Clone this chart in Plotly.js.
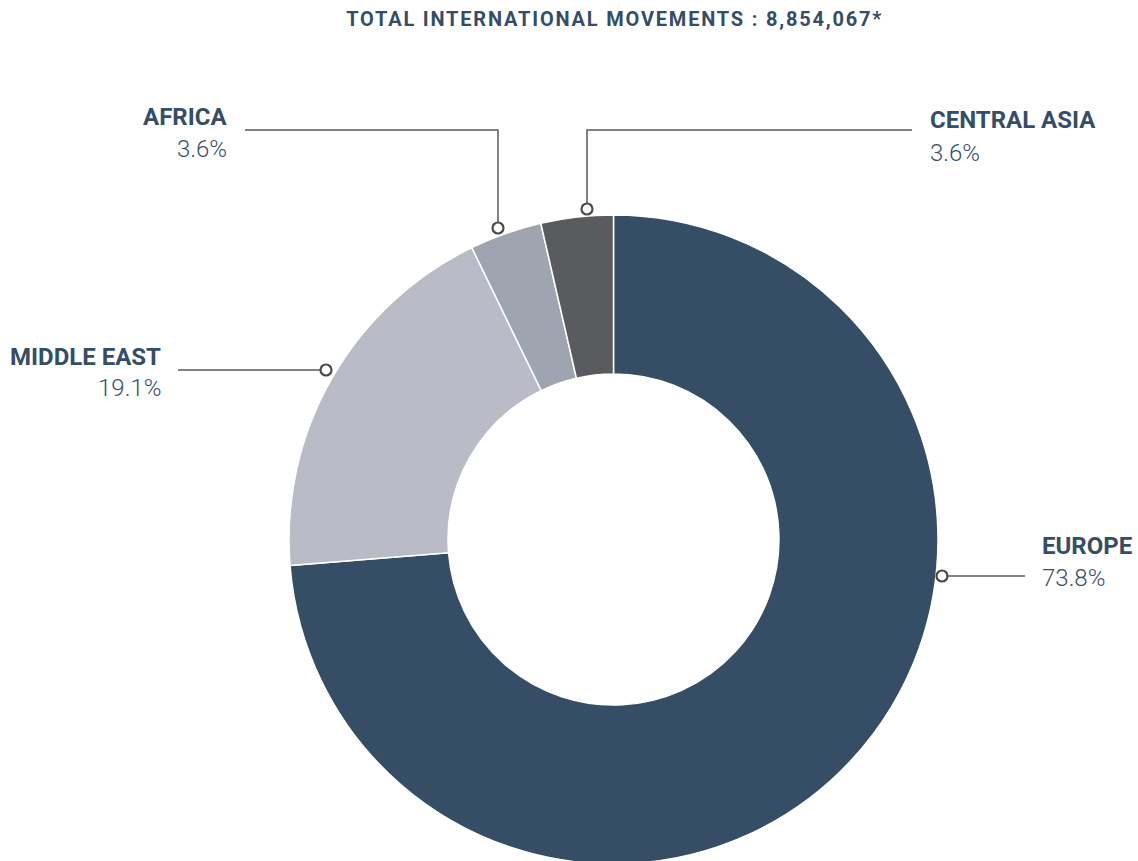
<!DOCTYPE html>
<html><head><meta charset="utf-8">
<script src="https://cdn.plot.ly/plotly-3.0.1.min.js"></script>
<style>html,body{margin:0;padding:0;overflow:hidden;background:#fff}#chart{width:1138px;height:864px}</style>
</head><body><div id="chart"></div>
<script>
const regions = ["EUROPE", "MIDDLE EAST", "AFRICA", "CENTRAL ASIA"];
const shares = [73.8, 19.1, 3.6, 3.6];
const pctLabels = ["73.8%", "19.1%", "3.6%", "3.6%"];
const colors = ["#354e66", "#b9bbc6", "#9fa4b1", "#5a5b5e"];
const titleText = "TOTAL INTERNATIONAL MOVEMENTS : 8,854,067*";

const W = 1138, H = 864;
const px = x => x / W, py = y => 1 - y / H;
const nameFont = {family: "Roboto, sans-serif", size: 24, color: "#354e66", weight: 700};
const pctFont = {family: "Roboto, sans-serif", size: 24, color: "#3a5068", weight: 300};
const lineStyle = {color: "#5a5a5a", width: 1.5};

// label placement (pixels): dot, elbow path, text anchor
const place = {
  "EUROPE": {dot:[942,576], path:[[948,576],[1025,576]], tx:1040, ny:546, pyy:578, anchor:"left"},
  "MIDDLE EAST": {dot:[326,370], path:[[178,370],[320,370]], tx:163, ny:357, pyy:388, anchor:"right"},
  "AFRICA": {dot:[498,228], path:[[245,130],[498,130],[498,222]], tx:229, ny:117, pyy:149, anchor:"right"},
  "CENTRAL ASIA": {dot:[587,209], path:[[587,203],[587,130],[912,130]], tx:928, ny:120, pyy:153, anchor:"left"}
};

const shapes = [], annotations = [];
regions.forEach((r, i) => {
  const p = place[r];
  const d = "M" + p.path.map(q => px(q[0]) + "," + py(q[1])).join(" L");
  shapes.push({type:"path", xref:"paper", yref:"paper", path:d, line:lineStyle});
  shapes.push({type:"circle", xref:"paper", yref:"paper", xsizemode:"pixel", ysizemode:"pixel",
    xanchor:px(p.dot[0]), yanchor:py(p.dot[1]), x0:-5.5, x1:5.5, y0:-5.5, y1:5.5,
    fillcolor:"#ffffff", line:{color:"#4a4a4a", width:2.2}});
  annotations.push({xref:"paper", yref:"paper", x:px(p.tx), y:py(p.ny), text:r, showarrow:false,
    xanchor:p.anchor, yanchor:"middle", font:nameFont});
  annotations.push({xref:"paper", yref:"paper", x:px(p.tx), y:py(p.pyy), text:pctLabels[i], showarrow:false,
    xanchor:p.anchor, yanchor:"middle", font:pctFont});
});
annotations.push({xref:"paper", yref:"paper", x:px(614), y:py(19), text:titleText, showarrow:false,
  xanchor:"center", yanchor:"middle", font:{family:"Roboto, sans-serif", size:20, color:"#354e66", weight:700}});

const R = 324.5, cx = 613.5, cy = 539.5;
const trace = {
  type: "pie", labels: regions, values: shares, hole: 0.51, sort: false, direction: "clockwise",
  rotation: 0, textinfo: "none", hoverinfo: "label+percent",
  marker: {colors: colors, line: {color: "#ffffff", width: 1.5}},
  domain: {x: [(cx - R) / W, (cx + R) / W], y: [(H - cy - R) / H, (H - cy + R) / H]},
  showlegend: false
};
Plotly.newPlot("chart", [trace], {
  width: W, height: H, margin: {l:0, r:0, t:0, b:0},
  paper_bgcolor: "#ffffff", shapes: shapes, annotations: annotations, showlegend: false
}, {displayModeBar: false, staticPlot: true}).then(() => {
  document.querySelectorAll("#chart .annotation-text").forEach(t => {
    if (t.textContent === titleText) t.style.letterSpacing = "1.8px";
  });
});
</script></body></html>
